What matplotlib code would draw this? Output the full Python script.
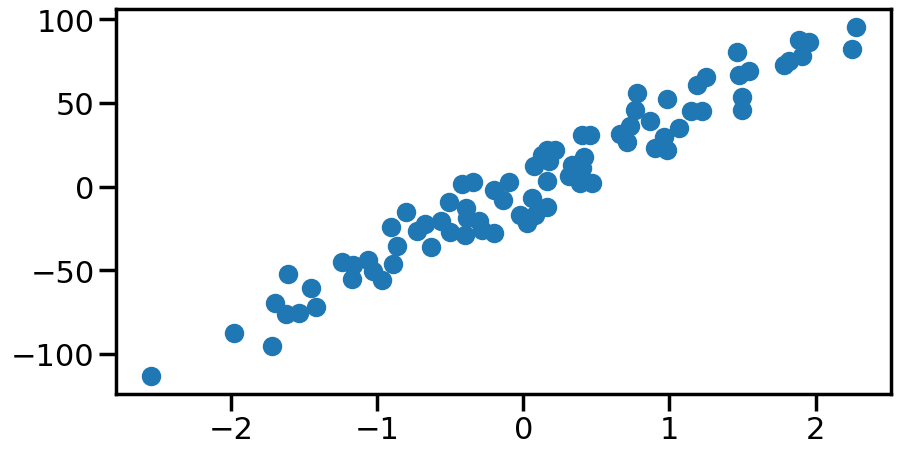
import matplotlib
matplotlib.use("Agg")
import matplotlib.pyplot as plt
import seaborn as sns

sns.set_context("poster")
plt.rcParams['font.family'] = ['DejaVu Sans']

# values
x = [-2.543, -1.977, -1.717, -1.608, -1.699, -1.623, -1.532, -1.452, -1.418, -1.242,
     -1.164, -1.173, -1.060, -1.029, -0.968, -0.888, -0.865, -0.904, -0.803, -0.728,
     -0.671, -0.630, -0.564, -0.500, -0.505, -0.420, -0.340, -0.392, -0.386, -0.397,
     -0.299, -0.283, -0.199, -0.203, -0.139, -0.094, -0.021, 0.025, 0.060, 0.082,
     0.162, 0.071, 0.128, 0.162, 0.219, 0.173, 0.162, 0.334, 0.413, 0.310,
     0.402, 0.390, 0.471, 0.402, 0.459, 0.664, 0.733, 0.710, 0.779, 0.767,
     0.870, 0.984, 0.961, 0.904, 0.984, 1.064, 1.144, 1.224, 1.190, 1.247,
     1.475, 1.543, 1.498, 1.498, 1.462, 1.783, 1.817, 1.886, 1.954, 1.909,
     2.274, 2.251]
y = [-113.6, -87.7, -95.7, -52.5, -69.8, -76.4, -75.8, -60.8, -71.8, -45.3,
     -46.9, -55.1, -43.9, -50.5, -56.2, -46.5, -35.3, -24.3, -15.4, -26.6,
     -22.4, -35.9, -20.6, -27.3, -9.0, 1.4, 2.6, -12.6, -19.0, -28.9,
     -20.9, -26.0, -27.9, -2.2, -8.0, 2.6, -17.0, -21.9, -7.0, -17.0,
     -12.0, 12.0, 18.9, 21.9, 21.9, 15.0, 3.0, 12.9, 17.9, 6.0,
     10.9, 2.0, 2.0, 30.9, 30.9, 31.3, 35.9, 26.9, 55.8, 45.8,
     38.9, 52.4, 29.9, 23.3, 21.9, 34.9, 44.9, 44.9, 60.8, 65.8,
     66.7, 68.8, 53.8, 45.8, 80.6, 72.7, 74.8, 87.7, 86.7, 77.8,
     95.7, 82.1]

fig, ax = plt.subplots(figsize=(9, 4.56), dpi=100)
ax.scatter(x, y, color='#1f77b4')
plt.subplots_adjust(left=0.129, right=0.99, top=0.978, bottom=0.134)
plt.savefig("out.png")
